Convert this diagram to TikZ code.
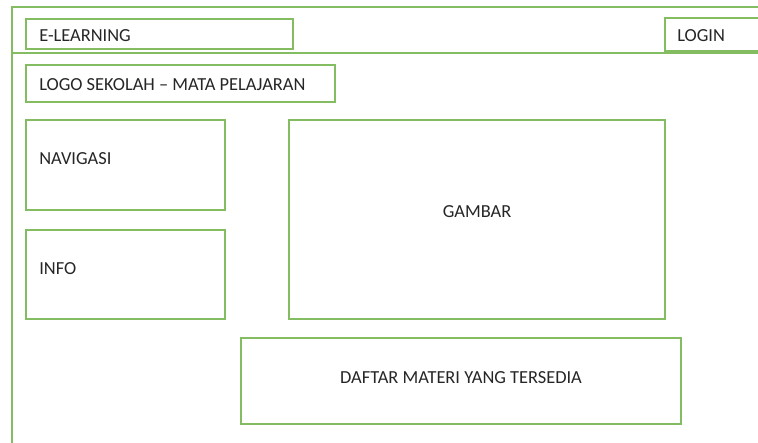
\documentclass[tikz,border=0pt]{standalone}
\usepackage{fontspec}
\setmainfont{Carlito}
\usetikzlibrary{fit}
\definecolor{frame}{HTML}{84BC62}
\definecolor{ink}{HTML}{262626}
\tikzset{
  box/.style={draw=frame, line width=1pt, inner sep=0pt, fill=none},
  rule/.style={draw=frame, line width=1pt},
  txt/.style={inner sep=0pt, text=ink, font=\fontsize{13.8}{16}\selectfont},
}
\begin{document}
\begin{tikzpicture}[x=0.75pt, y=-0.75pt]
  \useasboundingbox[fill=white] (0,0) rectangle (758,443);

  % page frame, open to the right and below
  \coordinate (fTop) at (12,7);
  \coordinate (fTopR) at (758,7);
  \coordinate (fBot) at (12,443);
  \coordinate (sepL) at (12,53);
  \coordinate (sepR) at (758,53);
  \draw[rule] (fTopR) -- (fTop) -- (fBot);
  \draw[rule] (sepL) -- (sepR);

  % header
  \node[box, fit={(26,19) (293,49)}] (elearn) {};
  \node[txt, anchor=base west] (elearnT) at (39,41) {E-LEARNING};

  \coordinate (loginTR) at (758,18);
  \coordinate (loginTL) at (665,18);
  \coordinate (loginBL) at (665,51);
  \coordinate (loginBR) at (758,51);
  \draw[rule] (loginTR) -- (loginTL) -- (loginBL) -- (loginBR);
  \node[txt, anchor=base west] (loginT) at (677,41.5) {LOGIN};

  % body
  \node[box, fit={(26,65) (335,102)}] (logo) {};
  \node[txt, anchor=base west] (logoT) at (39,90.5) {LOGO SEKOLAH – MATA PELAJARAN};

  \node[box, fit={(26,120) (225,210)}] (nav) {};
  \node[txt, anchor=base west] (navT) at (39,164) {NAVIGASI};

  \node[box, fit={(26,230) (225,319)}] (info) {};
  \node[txt, anchor=base west] (infoT) at (39,274) {INFO};

  \node[box, fit={(289,120) (665,319)}] (gambar) {};
  \node[txt, anchor=base] (gambarT) at (477,217.5) {GAMBAR};

  \node[box, fit={(241,338) (681,424)}] (daftar) {};
  \node[txt, anchor=base] (daftarT) at (461,383.5) {DAFTAR MATERI YANG TERSEDIA};
\end{tikzpicture}
\end{document}
